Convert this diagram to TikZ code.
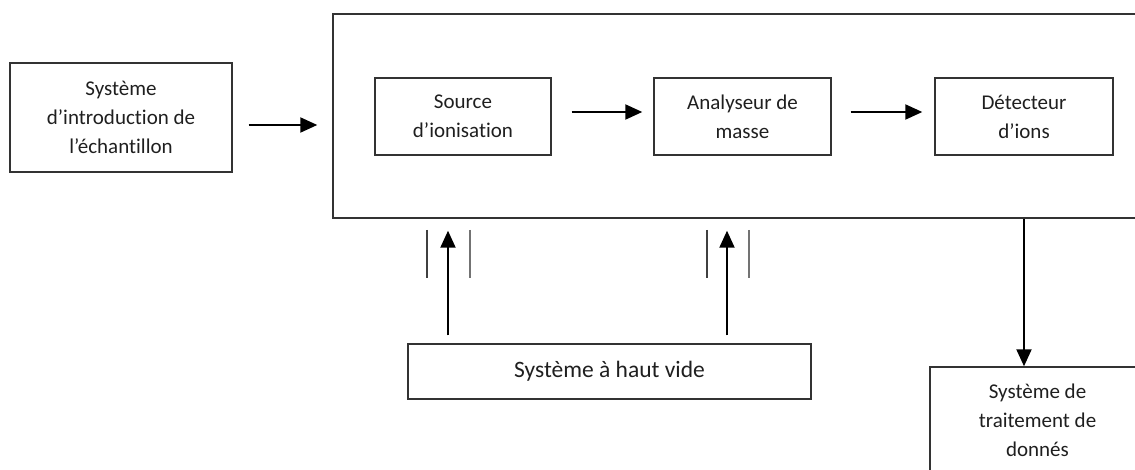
\documentclass[tikz,border=0pt]{standalone}
\usepackage{fontspec}
\setmainfont[Ligatures=NoCommon]{Carlito}
\usetikzlibrary{arrows.meta}
\begin{document}
\begin{tikzpicture}[x=1pt,y=-1pt,
  box/.style={draw=black!80, line width=1.4pt, rectangle, inner sep=0pt, align=center,
    font=\fontsize{21}{29}\selectfont, text=black!88},
  arr/.style={line width=2pt, -{Triangle[length=17pt,width=15pt]}},
  bar/.style={line width=1.2pt, draw=black!75},
  lbl/.style={align=center, font=\fontsize{21}{29}\selectfont, text=black!88, inner sep=0pt}]
\useasboundingbox (0,0) rectangle (1135,470);
\begin{scope}
\clip (0,0) rectangle (1135,470);
% boxes
\node[box, minimum width=222pt, minimum height=109pt] (intro) at (121,117.5)
  {Système\\d’introduction de\\l’échantillon};
\node[box, minimum width=812pt, minimum height=204pt] (ms) at (739,116) {};
\node[box, minimum width=176pt, minimum height=77pt] (src) at (463,116.5) {Source\\d’ionisation};
\node[box, minimum width=177pt, minimum height=77pt] (ana) at (742.5,116.5) {Analyseur de\\masse};
\node[box, minimum width=178pt, minimum height=77pt] (det) at (1024,116.5) {Détecteur\\d’ions};
\node[box, minimum width=403pt, minimum height=55pt, font=\fontsize{23.5}{29}\selectfont] (vide) at (609.5,371.5)
  {Système à haut vide};
\node[box, minimum width=215pt, minimum height=133pt] (data) at (1037.5,433.5) {};
\node[lbl, anchor=north] (datatxt) at ([yshift=-17pt]data.north)
  {Système de\\traitement de\\donnés};
% connectors
\draw[arr] ([shift={(16,7.5)}]intro.east) -- ([shift={(-15,7.5)}]intro.east -| ms.west);
\draw[arr] ([shift={(20,-4.5)}]src.east) -- ([shift={(-11,-4.5)}]ana.west);
\draw[arr] ([shift={(19,-4.5)}]ana.east) -- ([shift={(-12,-4.5)}]det.west);
\draw[arr] (det |- ms.south) -- (det |- data.north);
\coordinate (v1) at (448,0);
\coordinate (v2) at (727,0);
\draw[arr, shorten <=8pt, shorten >=12pt] (vide.north -| v1) -- (ms.south -| v1);
\draw[arr, shorten <=8pt, shorten >=12pt] (vide.north -| v2) -- (ms.south -| v2);
% side bars
\draw[bar] (427,230) -- (427,278);
\draw[bar, draw=black!55] (470,230) -- (470,278);
\draw[bar] (707,230) -- (707,278);
\draw[bar, draw=black!55] (749,230) -- (749,278);
\end{scope}
\end{tikzpicture}
\end{document}
